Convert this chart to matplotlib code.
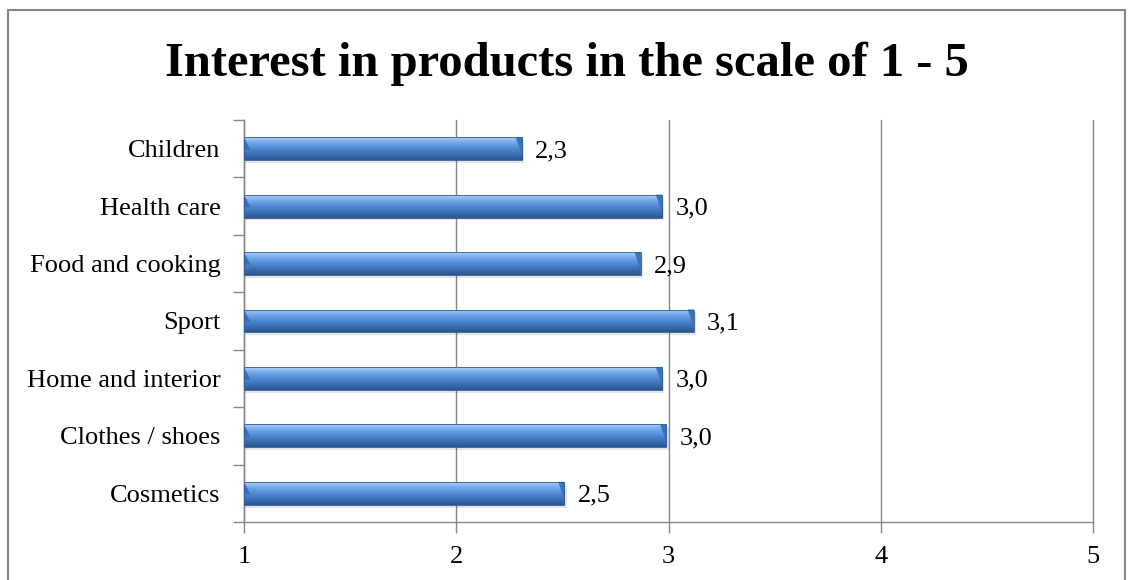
import matplotlib
matplotlib.use("Agg")
import matplotlib.pyplot as plt
import numpy as np
from matplotlib.patches import Rectangle, Polygon
from matplotlib.colors import LinearSegmentedColormap

categories = ["Cosmetics", "Clothes / shoes", "Home and interior", "Sport",
              "Food and cooking", "Health care", "Children"]
values = [2.51, 2.99, 2.97, 3.12, 2.87, 2.97, 2.31]
value_labels = ["2,5", "3,0", "3,0", "3,1", "2,9", "3,0", "2,3"]
x_ticks = [1, 2, 3, 4, 5]
title = "Interest in products in the scale of 1 - 5"

serif = ["Liberation Serif", "DejaVu Serif"]
gray = "#868686"

fig = plt.figure(figsize=(11.3, 5.8), dpi=100)
fig.patch.set_facecolor("white")

# outer chart border
fig.add_artist(Rectangle((8 / 1130, -0.02), (1125 - 8) / 1130, 1 - 10 / 580 + 0.02,
                         transform=fig.transFigure, fill=False,
                         edgecolor=gray, linewidth=1.5))

ax = fig.add_axes([244 / 1130, 1 - 522 / 580, (1093 - 244) / 1130, (522 - 120) / 580])
ax.set_xlim(1, 5)
ax.set_ylim(-0.5, len(categories) - 0.5)

ypos = np.arange(len(categories))
widths = [v - 1 for v in values]
bars = ax.barh(ypos, widths, left=1, height=0.40, color="none", edgecolor="none", zorder=3)

cmap = LinearSegmentedColormap.from_list("bar3d", [
    (0.0, "#2a5590"), (0.15, "#3464a6"), (0.45, "#4a84cf"),
    (0.7, "#68a0e6"), (0.85, "#88b6ef"), (1.0, "#b7d3f3")])
grad = np.linspace(0, 1, 256).reshape(-1, 1)

bev = 0.03
for b in bars:
    x0, y0, w, h = b.get_x(), b.get_y(), b.get_width(), b.get_height()
    # shadow
    ax.add_patch(Rectangle((x0, y0 - h * 0.12), w + 0.01, h, facecolor="#000000",
                           alpha=0.10, edgecolor="none", zorder=2))
    im = ax.imshow(grad, cmap=cmap, aspect="auto", origin="lower",
                   extent=[x0, x0 + w, y0, y0 + h], zorder=3, interpolation="bicubic")
    im.set_clip_path(b)
    # bevel ends
    ax.add_patch(Polygon([[x0, y0 + h], [x0 + bev, y0 + h * 0.45], [x0, y0 + h * 0.45]],
                         closed=True, facecolor="#3a6db4", edgecolor="none", zorder=4))
    ax.add_patch(Polygon([[x0 + w - bev, y0 + h], [x0 + w, y0 + h], [x0 + w, y0 + h * 0.1],
                          [x0 + w - bev * 0.3, y0 + h * 0.45]],
                         closed=True, facecolor="#3d72ba", edgecolor="none", zorder=4))
    ax.add_patch(Rectangle((x0, y0), w, h, fill=False, edgecolor="#2c5a96",
                           linewidth=0.6, zorder=5))

for b, lab in zip(bars, value_labels):
    ax.annotate(lab, (b.get_x() + b.get_width(), b.get_y() + b.get_height() / 2),
                xytext=(9.5, 0), textcoords="offset points", va="center_baseline", ha="left",
                fontsize=19, family=serif, color="black", zorder=6)

ax.set_xticks(x_ticks)
ax.set_xticklabels([str(t) for t in x_ticks], fontsize=19, family=serif)
ax.set_yticks(ypos)
ax.set_yticklabels(categories, fontsize=19, family=serif)
ax.set_yticks(np.arange(-0.5, len(categories), 1), minor=True)
ax.tick_params(axis="y", which="major", length=0, pad=17)
ax.tick_params(axis="y", which="minor", length=8, color=gray, width=1)
ax.tick_params(axis="x", which="major", length=8, color=gray, width=1, pad=9)

ax.grid(axis="x", color=gray, linewidth=1, zorder=0)
for gl in ax.xaxis.get_gridlines():
    gl.set_clip_on(False)
ax.set_axisbelow(True)
for s in ["top", "right"]:
    ax.spines[s].set_visible(False)
for s in ["left", "bottom"]:
    ax.spines[s].set_color(gray)
    ax.spines[s].set_linewidth(1)

fig.text(0.5015, 1 - 64 / 580, title, ha="center", va="center",
         fontsize=35, fontweight="bold", family=serif)

fig.savefig("out.png", dpi=100)
